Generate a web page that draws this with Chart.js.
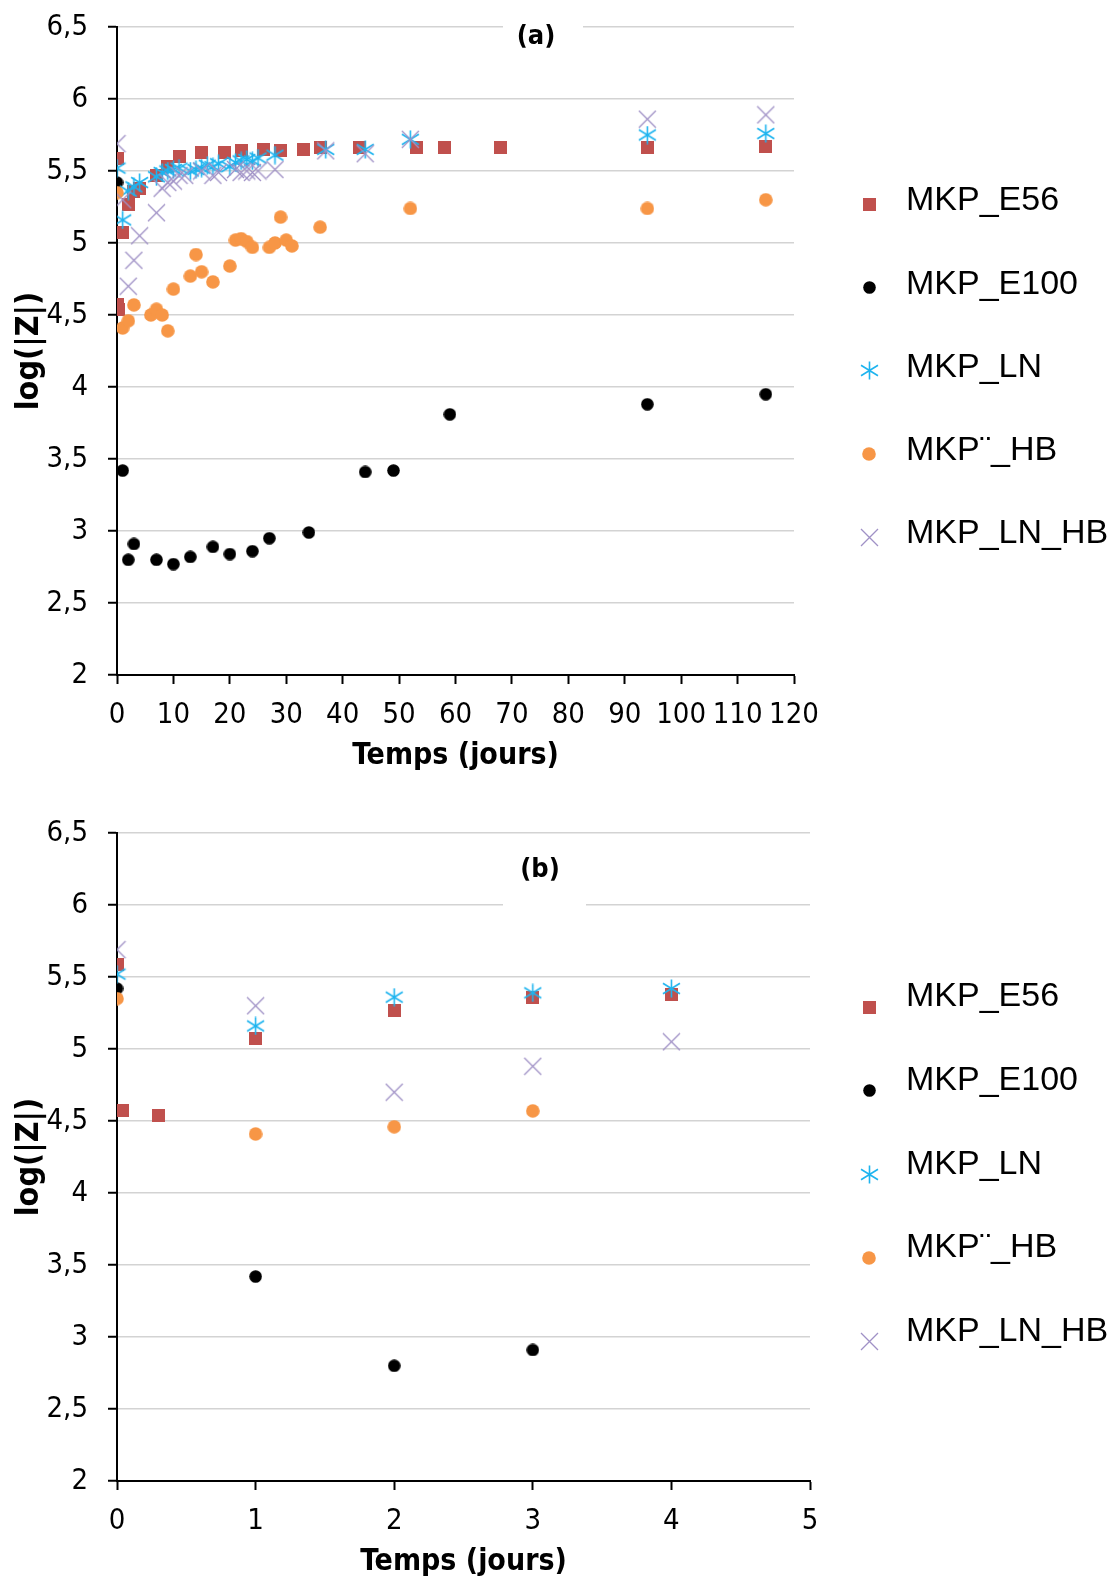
<!DOCTYPE html>
<html>
<head>
<meta charset="utf-8">
<script src="https://cdn.jsdelivr.net/npm/chart.js@4.4.1/dist/chart.umd.min.js"></script>
<style>
  html, body { margin: 0; padding: 0; background: #fff; overflow: hidden; }
  .panel { position: absolute; left: 0; width: 1113px; }
  #panelA { top: 0; height: 790px; }
  #panelB { top: 790px; height: 800px; }
</style>
</head>
<body>
<div class="panel" id="panelA"><canvas id="chartA" width="1113" height="790"></canvas></div>
<div class="panel" id="panelB"><canvas id="chartB" width="1113" height="800"></canvas></div>
<script>
// series names (legend order)
const seriesNames = ['MKP_E56', 'MKP_E100', 'MKP_LN', 'MKP¨_HB', 'MKP_LN_HB'];

// MKP_E56
const e56Days = [0, 0.04, 0.3, 1, 2, 3, 4, 7, 9, 11, 15, 19, 22, 26, 29, 33, 36, 43, 53, 58, 68, 94, 115];
const e56Vals = [5.59, 4.57, 4.54, 5.07, 5.27, 5.36, 5.38, 5.47, 5.53, 5.60, 5.63, 5.63, 5.64, 5.65, 5.64, 5.65, 5.66, 5.66, 5.66, 5.66, 5.66, 5.66, 5.67];

// MKP_E100
const e100Days = [0, 1, 2, 3, 7, 10, 13, 17, 20, 24, 27, 34, 44, 49, 59, 94, 115];
const e100Vals = [5.42, 3.42, 2.80, 2.91, 2.80, 2.77, 2.82, 2.89, 2.84, 2.86, 2.95, 2.99, 3.41, 3.42, 3.81, 3.88, 3.95];

// MKP_LN
const lnDays = [0, 1, 2, 3, 4, 7, 8, 9, 10, 11, 13, 14, 15, 16, 17, 18, 20, 21, 22, 23, 24, 25, 28, 37, 44, 52, 94, 115];
const lnVals = [5.52, 5.16, 5.36, 5.39, 5.42, 5.46, 5.49, 5.50, 5.51, 5.52, 5.50, 5.51, 5.52, 5.54, 5.53, 5.55, 5.53, 5.56, 5.57, 5.58, 5.57, 5.59, 5.61, 5.65, 5.65, 5.72, 5.75, 5.76];

// MKP¨_HB
const hbDays = [0, 1, 2, 3, 6, 7, 8, 9, 10, 13, 14, 15, 17, 20, 21, 22, 23, 24, 27, 28, 29, 30, 31, 36, 52, 94, 115];
const hbVals = [5.35, 4.41, 4.46, 4.57, 4.50, 4.54, 4.50, 4.39, 4.68, 4.77, 4.92, 4.80, 4.73, 4.84, 5.02, 5.03, 5.01, 4.97, 4.97, 5.00, 5.18, 5.02, 4.98, 5.11, 5.24, 5.24, 5.30];

// MKP_LN_HB
const lnhbDays = [0, 1, 2, 3, 4, 7, 8, 9, 10, 11, 12, 15, 17, 18, 21, 22, 23, 24, 25, 28, 37, 44, 52, 94, 115];
const lnhbVals = [5.69, 5.30, 4.70, 4.88, 5.05, 5.21, 5.38, 5.42, 5.43, 5.47, 5.47, 5.50, 5.47, 5.49, 5.51, 5.49, 5.50, 5.49, 5.50, 5.51, 5.64, 5.62, 5.72, 5.86, 5.89];

// axis ticks
const yTicks = [2, 2.5, 3, 3.5, 4, 4.5, 5, 5.5, 6, 6.5];
const xTicksA = [0, 10, 20, 30, 40, 50, 60, 70, 80, 90, 100, 110, 120];
const xTicksB = [0, 1, 2, 3, 4, 5];

const allDays = [e56Days, e100Days, lnDays, hbDays, lnhbDays];
const allVals = [e56Vals, e100Vals, lnVals, hbVals, lnhbVals];

const family = "'DejaVu Sans Condensed', 'DejaVu Sans', sans-serif";
const tickFont = { family: family, size: 29 };

// marker images (Excel-like)
function marker(kind, color, size) {
  const c = document.createElement('canvas');
  c.width = size; c.height = size;
  const g = c.getContext('2d');
  const m = size / 2;
  g.fillStyle = color;
  g.strokeStyle = color;
  if (kind === 'square') {
    g.fillRect(0, 0, size, size);
  } else if (kind === 'circle') {
    g.beginPath();
    g.arc(m, m, m - 0.2, 0, Math.PI * 2);
    g.fill();
  } else {
    g.lineWidth = kind === 'asterisk' ? 1.6 : 1.3;
    const r = m - 1;
    const k = kind === 'asterisk' ? 0.62 : 1;
    g.beginPath();
    g.moveTo(m - r, m - r * k);
    g.lineTo(m + r, m + r * k);
    g.moveTo(m + r, m - r * k);
    g.lineTo(m - r, m + r * k);
    if (kind === 'asterisk') {
      g.moveTo(m, 0.5);
      g.lineTo(m, size - 0.5);
    }
    g.stroke();
  }
  return c;
}

const markers = [
  marker('square', '#c0504d', 13),
  marker('circle', '#000000', 13),
  marker('asterisk', '#1eb4ef', 19),
  marker('circle', '#f79646', 14),
  marker('cross', '#a091c6', 19)
];

function buildDatasets(xMax) {
  return seriesNames.map((name, i) => ({
    label: name,
    data: allDays[i].map((d, k) => ({ x: d, y: allVals[i][k] })).filter(p => p.x <= xMax),
    pointStyle: markers[i],
    pointRadius: 7,
    pointHoverRadius: 7,
    order: seriesNames.length - i
  }));
}

// title like "(a)" sitting in a white box inside the plot
const panelTitle = {
  id: 'panelTitle',
  beforeDatasetsDraw(chart, args, opts) {
    const ctx = chart.ctx;
    ctx.save();
    ctx.fillStyle = '#fff';
    ctx.fillRect(opts.box[0], opts.box[1], opts.box[2], opts.box[3]);
    ctx.fillStyle = '#000';
    ctx.font = 'bold 27px ' + family;
    ctx.textAlign = 'center';
    ctx.textBaseline = 'middle';
    ctx.fillText(opts.text, opts.x, opts.y);
    ctx.restore();
  }
};

// legend on the right, Excel style
const sideLegend = {
  id: 'sideLegend',
  afterDraw(chart, args, opts) {
    const ctx = chart.ctx;
    ctx.save();
    ctx.font = "34px 'Liberation Sans', Arial, sans-serif";
    ctx.fillStyle = '#000';
    ctx.textBaseline = 'middle';
    ctx.textAlign = 'left';
    chart.data.datasets.forEach((ds, i) => {
      const y = opts.top + i * opts.step;
      const img = ds.pointStyle;
      ctx.drawImage(img, Math.round(opts.markerX - img.width / 2), Math.round(y + opts.markerDy - img.height / 2));
      ctx.fillText(ds.label, opts.textX, y);
    });
    ctx.restore();
  }
};

function makeChart(id, xMax, xTicks, padding, titleOpts, legendOpts) {
  return new Chart(document.getElementById(id), {
    type: 'scatter',
    data: { datasets: buildDatasets(xMax) },
    plugins: [panelTitle, sideLegend],
    options: {
      responsive: false,
      animation: false,
      layout: { padding: padding },
      plugins: {
        legend: { display: false },
        tooltip: { enabled: false },
        panelTitle: titleOpts,
        sideLegend: legendOpts
      },
      scales: {
        x: {
          type: 'linear',
          min: 0,
          max: xMax,
          afterBuildTicks: s => { s.ticks = xTicks.map(v => ({ value: v })); },
          ticks: { color: '#000', font: tickFont, padding: 14, maxRotation: 0, autoSkip: false },
          grid: { drawOnChartArea: false, tickColor: '#000', tickLength: 9, tickWidth: 2 },
          border: { color: '#000', width: 2 },
          title: { display: true, text: 'Temps (jours)', color: '#000', font: { family: family, size: 30, weight: 'bold' }, padding: { top: 4, bottom: 1 } },
          afterFit: s => { s.height = 100; }
        },
        y: {
          min: 2,
          max: 6.5,
          afterBuildTicks: s => { s.ticks = yTicks.map(v => ({ value: v })); },
          ticks: { color: '#000', font: tickFont, padding: 20, callback: v => String(v).replace('.', ',') },
          grid: { color: '#d3d3d3', lineWidth: 1.5, tickColor: '#000', tickLength: 9, tickWidth: 2 },
          border: { color: '#000', width: 2 },
          title: { display: true, text: 'log(|Z|)', color: '#000', font: { family: family, size: 32, weight: 'bold' }, padding: { top: 10, bottom: 4 } },
          afterFit: s => { s.width = 117; s.paddingTop = 10; s.paddingBottom = 10; }
        }
      }
    }
  });
}

makeChart('chartA', 120, xTicksA,
  { left: 0, right: 319, top: 27, bottom: 15 },
  { text: '(a)', x: 536, y: 37, box: [503, 12, 80, 48] },
  { top: 201, step: 83.25, markerX: 869, markerDy: 3, textX: 906 });

makeChart('chartB', 5, xTicksB,
  { left: 0, right: 303, top: 43, bottom: 9 },
  { text: '(b)', x: 540, y: 80, box: [503, 55, 83, 65] },
  { top: 207, step: 83.7, markerX: 869, markerDy: 10, textX: 906 });
</script>
</body>
</html>
